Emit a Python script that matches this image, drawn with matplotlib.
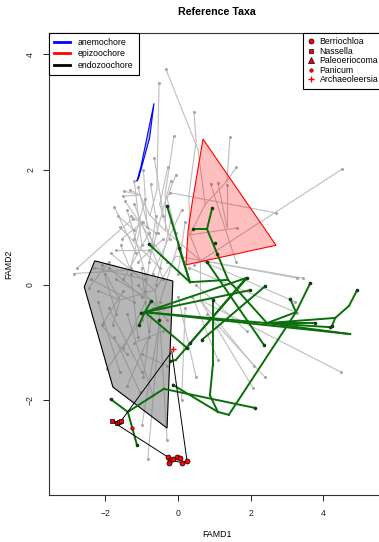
import matplotlib
matplotlib.use("Agg")
import matplotlib.pyplot as plt
from matplotlib.lines import Line2D
from matplotlib.patches import Polygon
from collections import Counter

plt.rcParams['font.family'] = ['Liberation Sans', 'DejaVu Sans']

# ---- data (FAMD coordinates) ----
# background tree (all taxa): segments x0, y0, x1, y1
gray_segments = [
    (-0.33, 3.74, 0.55, 2.35), (0.55, 2.35, 0.75, 1.40),
    (-0.52, 3.50, -0.58, 1.65), (0.44, 3.00, 0.50, 2.50),
    (0.50, 2.50, 0.30, 1.55), (-0.11, 2.58, -0.36, 1.55),
    (1.43, 2.56, 1.35, 1.80), (1.35, 1.80, 0.75, 1.40),
    (1.60, 2.04, 1.35, 1.80), (4.52, 2.01, 0.45, 0.35),
    (-0.22, 1.60, 2.70, 1.25), (-0.28, 2.04, -0.50, 1.40),
    (-0.06, 1.91, -0.30, 1.50), (-1.49, 1.63, -1.05, 1.56),
    (-1.52, 1.54, -1.05, 1.56), (-1.32, 1.65, -1.05, 1.56),
    (-1.05, 1.56, -0.77, 1.21), (-0.58, 1.65, -0.77, 1.21),
    (-0.77, 1.21, -0.36, 0.95), (-0.36, 1.55, -0.36, 0.95),
    (-0.50, 1.40, -0.22, 0.80), (-0.30, 1.50, -0.05, 0.90),
    (0.30, 1.55, 0.33, 0.87), (0.75, 1.40, 0.33, 0.87),
    (0.33, 0.87, 0.61, 0.43), (-0.36, 0.95, 0.61, 0.43),
    (0.33, 0.87, 1.63, 0.99), (0.90, 1.75, 1.60, 0.40),
    (1.10, 1.77, 1.35, 1.00), (1.35, 1.73, 1.35, 1.00),
    (-1.60, 1.00, -0.50, 0.30), (-1.40, 1.30, -0.90, 0.20),
    (-1.20, 1.40, -0.40, 0.10), (-1.00, 1.10, -1.30, 0.30),
    (-0.80, 0.90, -1.50, 0.10), (-0.60, 1.20, -0.90, -0.10),
    (-0.40, 0.80, -1.10, 0.40), (-0.20, 1.10, -0.60, 0.00),
    (0.00, 0.70, -0.50, -0.30), (-1.70, 0.60, -0.80, 0.60),
    (-1.10, 1.70, -0.70, 0.70), (-0.90, 1.50, -1.20, 0.80),
    (-1.30, 1.20, -0.60, 0.90), (-0.75, 1.75, -0.55, 0.90),
    (-1.65, 1.20, -1.20, 0.95), (-1.55, 0.80, -0.95, 1.10),
    (-1.45, 1.45, -0.30, 0.40), (-1.20, 1.80, -1.00, 0.70),
    (-0.95, 2.00, -0.85, 1.00), (-0.65, 2.20, -0.40, 1.20),
    (-0.20, 1.80, -0.80, 0.40), (0.10, 1.30, -0.70, 0.20),
    (0.20, 1.10, 0.00, 0.20), (-1.75, 1.35, -1.15, 0.55),
    (-2.87, 0.20, -1.30, 0.26), (-2.78, 0.29, -1.25, 1.15),
    (-1.85, 0.55, -1.30, 0.26), (-1.58, 0.70, -1.30, 0.26),
    (-1.30, 0.26, -0.63, -0.09), (-0.63, -0.09, -0.05, 0.50),
    (-0.05, 0.50, 0.61, 0.43), (-0.63, -0.09, -0.50, -0.61),
    (-1.60, -0.26, -0.63, -0.09), (-2.20, -0.10, -1.60, -0.26),
    (-2.00, 0.20, -1.60, -0.26), (-1.60, -0.26, -1.80, -0.70),
    # inside the endozoochore hull
    (-2.40, 0.10, -1.20, -0.30), (-2.30, 0.30, -0.90, 0.10),
    (-2.10, 0.35, -1.70, -0.50), (-1.90, 0.30, -1.00, -0.20),
    (-1.70, 0.10, -0.40, -0.40), (-1.50, -0.10, -2.05, -0.65),
    (-1.30, 0.20, -1.10, -0.90), (-1.10, 0.00, -0.30, -0.60),
    (-2.20, -0.30, -1.60, -1.50), (-1.75, -0.90, -1.05, -1.85),
    (-0.90, -0.30, -1.50, -1.10), (-0.70, -0.40, -0.95, -1.60),
    (-1.00, -1.20, -0.30, -1.40), (-2.45, -0.05, -1.90, 0.40),
    (-1.00, 0.30, -0.80, -0.80),
    # downward
    (-0.50, -0.61, -0.99, -2.43), (-0.50, -0.61, -0.83, -3.02),
    (-0.50, -0.61, -0.30, -2.69), (-1.40, -0.50, -0.70, -1.90),
    (-1.90, -0.40, -1.00, -1.50), (-1.20, -1.00, -0.40, -0.80),
    (-2.10, -0.70, -1.40, -1.20), (-1.95, -1.45, -1.00, -0.60),
    (-1.40, -1.75, -0.80, -0.90),
    # right side
    (0.61, -0.26, 2.09, -1.40), (0.61, -0.26, 2.07, -1.79),
    (0.61, 0.43, 3.28, 0.12), (0.61, 0.43, 3.44, 0.12),
    (0.61, 0.43, 3.22, -0.29), (0.61, 0.43, 0.61, -0.26),
    (0.61, -0.26, 4.49, -1.51), (0.20, -0.40, 0.10, -2.00),
    (0.40, -0.20, 1.10, -1.30), (0.30, 0.30, 3.28, -0.48),
    (0.80, -0.50, 2.40, -1.60), (0.50, 0.00, 1.90, -0.80),
    (0.00, -0.20, 0.50, -1.60),
]

# highlighted clade tree
green_segments = [
    (0.94, 1.33, 0.80, 0.97), (0.41, 0.97, 0.80, 0.97),
    (0.80, 0.97, 1.38, 0.09), (1.38, 0.09, 2.45, -0.66),
    (-0.30, 1.37, 0.33, 0.05), (-0.80, 0.71, 0.33, 0.05),
    (0.03, 0.64, 0.33, 0.05), (0.33, 0.05, 1.38, 0.09),
    (-0.74, -0.28, -0.91, -0.47), (-1.02, -0.49, -0.91, -0.47),
    (-1.07, -0.69, -0.91, -0.47), (-0.91, -0.47, 2.45, -0.66),
    (-0.91, -0.47, 1.87, 0.12), (-0.91, -0.47, 1.98, -0.09),
    (-0.91, -0.47, 4.74, -0.85), (-0.91, -0.47, 0.25, -1.09),
    (2.45, -0.66, 4.19, -0.73), (2.45, -0.66, 4.74, -0.85),
    (2.45, -0.66, 3.77, -0.66), (2.45, -0.66, 4.33, -0.57),
    (4.33, -0.57, 4.71, -0.36), (4.71, -0.36, 4.93, -0.09),
    (4.33, -0.57, 4.24, -0.71), (2.45, -0.66, 3.25, -0.47),
    (3.64, 0.03, 3.25, -0.47), (3.09, -0.24, 3.25, -0.47),
    (3.25, -0.47, 1.40, -2.25), (2.37, -1.04, 0.80, 0.40),
    (0.33, -1.01, 1.90, 0.12), (0.66, -0.95, 2.40, -0.02),
    (-0.06, -1.30, 1.87, 0.12), (-0.22, -1.32, -0.06, -1.30),
    (0.96, -1.39, 0.88, -1.91), (0.88, -1.91, 1.10, -2.20),
    (-0.14, -1.73, 1.10, -2.20), (1.10, -2.20, 1.40, -2.25),
    (-0.39, -1.80, 2.12, -2.13), (0.96, -1.39, 0.96, -0.26),
    (-1.85, -1.98, -1.38, -2.20), (-1.38, -2.20, -1.13, -2.77),
    (-1.38, -2.20, -0.39, -1.80),
]
green_extra_tips = [(1.02, 0.73), (1.07, 0.54), (-0.52, -0.61)]

# fossil links
black_segments = [
    (-1.82, -2.36, -0.28, -2.98), (-1.57, -2.36, -0.20, -1.18),
    (-0.17, -1.15, 0.25, -3.05), (-1.82, -2.36, -1.57, -2.36),
    (-0.28, -2.98, -0.22, -3.03), (-0.22, -3.03, 0.11, -3.08),
    (0.11, -3.08, 0.25, -3.05), (-0.14, -3.02, 0.06, -3.00),
]

# dispersal-syndrome hulls
anemochore_hull = [(-1.13, 1.80), (-1.02, 2.05), (-0.66, 3.15), (-0.78, 2.55), (-1.08, 1.86)]
epizoochore_hull = [(0.69, 2.53), (2.70, 0.69), (0.22, 0.35), (0.28, 0.95), (0.39, 1.42)]
endozoochore_hull = [(-2.29, 0.42), (-0.14, 0.07), (-0.30, -2.48), (-1.79, -1.77), (-2.58, -0.03)]

# reference taxa
berriochloa_x = [-0.28, -0.22, -0.25, -0.14, -0.03, 0.06, 0.11, 0.25]
berriochloa_y = [-2.98, -3.03, -3.08, -3.02, -2.98, -3.00, -3.08, -3.05]
nassella_x = [-1.82, -1.68, -1.63, -1.57]
nassella_y = [-2.36, -2.39, -2.37, -2.36]
panicum_x = [-1.27]
panicum_y = [-2.48]
archaeoleersia_x = [-0.14]
archaeoleersia_y = [-1.11]


def tips(segments):
    ends = Counter()
    for x0, y0, x1, y1 in segments:
        ends[(x0, y0)] += 1
        ends[(x1, y1)] += 1
    pts = [p for p, n in ends.items() if n == 1]
    return [p[0] for p in pts], [p[1] for p in pts]


fig = plt.figure(figsize=(3.79, 5.42), dpi=100)
ax = fig.add_axes([49 / 379, 47 / 542, 336 / 379, 462 / 542])

for x0, y0, x1, y1 in gray_segments:
    ax.plot([x0, x1], [y0, y1], color='#bebebe', lw=0.8, zorder=1)
gx, gy = tips(gray_segments)
ax.plot(gx, gy, 'o', color='#a8a8a8', ms=2.2, mew=0, zorder=1.5)

ax.add_patch(Polygon(endozoochore_hull, closed=True, facecolor='#7a7a7a', alpha=0.55,
                     edgecolor='none', zorder=2))
ax.add_patch(Polygon(endozoochore_hull, closed=True, fill=False, edgecolor='black', lw=0.8, zorder=2))
ax.add_patch(Polygon(epizoochore_hull, closed=True, facecolor=(1, 0, 0, 0.25),
                     edgecolor='red', lw=0.8, zorder=2))
ax.add_patch(Polygon(anemochore_hull, closed=True, facecolor=(0, 0, 1, 0.3),
                     edgecolor='blue', lw=0.8, zorder=2))

for x0, y0, x1, y1 in green_segments:
    ax.plot([x0, x1], [y0, y1], color='#0a6e0a', lw=1.4, zorder=3)
tx, ty = tips(green_segments)
tx += [p[0] for p in green_extra_tips]
ty += [p[1] for p in green_extra_tips]
ax.plot(tx, ty, 'o', color='#143c14', ms=2.6, mew=0, zorder=3.5)

for x0, y0, x1, y1 in black_segments:
    ax.plot([x0, x1], [y0, y1], color='black', lw=0.7, zorder=4)

ax.plot(berriochloa_x, berriochloa_y, 'o', mfc='red', mec='black', mew=0.5, ms=3.6, zorder=5)
ax.plot(nassella_x, nassella_y, 's', mfc='red', mec='black', mew=0.5, ms=3.4, zorder=5)
ax.plot(panicum_x, panicum_y, 'o', mfc='red', mec='#7a0000', mew=0.4, ms=2.6, zorder=5)
ax.plot(archaeoleersia_x, archaeoleersia_y, '+', color='red', mew=1.0, ms=5, zorder=5)

ax.set_xlim(-3.55, 5.70)
ax.set_ylim(-3.64, 4.37)
ax.set_xticks([-2, 0, 2, 4])
ax.set_yticks([-2, 0, 2, 4])
ax.set_xticklabels(['\u22122', '0', '2', '4'])
ax.set_yticklabels(['\u22122', '0', '2', '4'], rotation=90, va='center')
ax.tick_params(direction='out', length=4, width=0.7, labelsize=6.3, pad=6, colors='#222222')
for s in ax.spines.values():
    s.set_linewidth(0.8)
    s.set_color('#333333')

ax.set_xlabel('FAMD1', fontsize=6.3, labelpad=9)
ax.set_ylabel('FAMD2', fontsize=6.3, labelpad=9)
ax.set_title('Reference Taxa', fontsize=7.7, fontweight='bold', pad=13)

h1 = [Line2D([], [], color=c, lw=2) for c in ['blue', 'red', 'black']]
leg1 = ax.legend(h1, ['anemochore', 'epizoochore', 'endozoochore'], loc='upper left',
                 bbox_to_anchor=(0, 1), borderaxespad=0, fontsize=6.3, fancybox=False,
                 edgecolor='black', framealpha=1, handlelength=1.8, handletextpad=0.9,
                 labelspacing=0.25, borderpad=0.6)
leg1.get_frame().set_linewidth(0.8)
ax.add_artist(leg1)

h2 = [Line2D([], [], ls='none', marker='o', mfc='red', mec='black', mew=0.5, ms=3.6),
      Line2D([], [], ls='none', marker='s', mfc='red', mec='black', mew=0.5, ms=3.4),
      Line2D([], [], ls='none', marker='^', mfc='red', mec='black', mew=0.5, ms=3.8),
      Line2D([], [], ls='none', marker='o', mfc='red', mec='#7a0000', mew=0.4, ms=2.6),
      Line2D([], [], ls='none', marker='+', color='red', mew=1.0, ms=5)]
leg2 = ax.legend(h2, ['Berriochloa', 'Nassella', 'Paleoeriocoma', 'Panicum', 'Archaeoleersia'],
                 loc='upper left', bbox_to_anchor=(254 / 336, 1), borderaxespad=0, fontsize=6.3,
                 fancybox=False, edgecolor='black', framealpha=1, handlelength=0.8,
                 handletextpad=0.6, labelspacing=0.05, borderpad=0.5)
leg2.get_frame().set_linewidth(0.8)

fig.savefig('out.png', dpi=100)
